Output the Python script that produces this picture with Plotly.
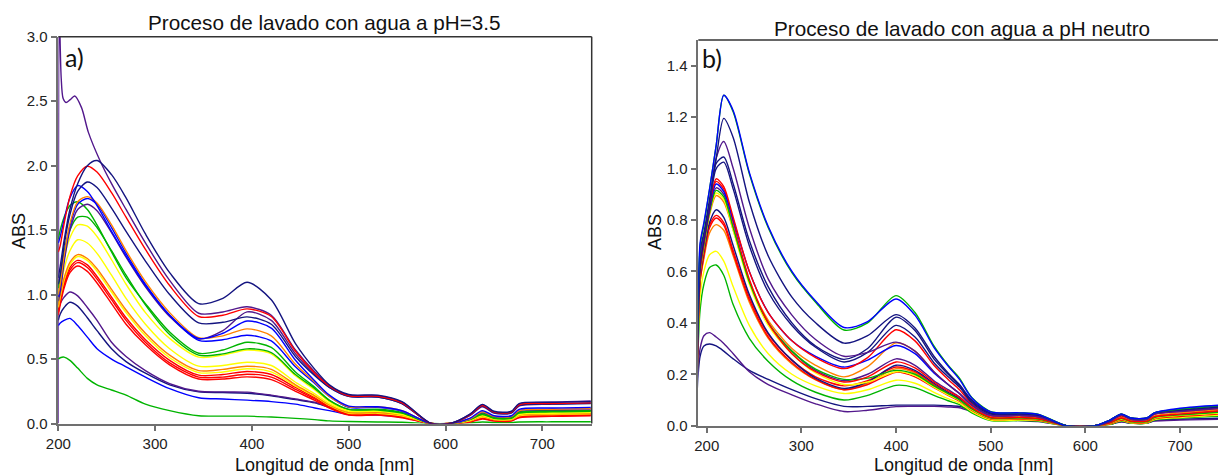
import plotly.graph_objects as go

# ---------------- Panel a) : washing with water at pH = 3.5 ----------------
wl_a = [200, 202, 206, 212, 220, 230, 240, 255, 270, 290, 315, 345, 370, 395, 420,
        445, 465, 480, 500, 530, 555, 585, 605, 625, 638, 650, 668, 676, 710, 750]

# first scan of the series: sharp rise right at 200 nm, then a shoulder at ~217 nm
wl_a_first = [200, 200.8, 201.5, 203, 205, 208, 212, 217, 224, 231, 243, 255, 270, 290,
              315, 345, 370, 395, 420, 445, 465, 480, 500, 530, 555, 585, 605, 625, 638,
              650, 668, 676, 710, 750]
a_purple_1 = [0.0, 3.4, 3.1, 2.68, 2.52, 2.49, 2.51, 2.54, 2.45, 2.26, 2.04, 1.86, 1.66, 1.40,
              1.11, 0.855, 0.865, 0.905, 0.84, 0.57, 0.40, 0.295, 0.22, 0.215, 0.165, 0.0, 0.0,
              0.07, 0.145, 0.09, 0.09, 0.15, 0.165, 0.175]

a_navy_1 = [1.13, 1.22, 1.42, 1.66, 1.86, 2.00, 2.04, 1.93, 1.75, 1.47, 1.17, 0.93, 0.97, 1.095, 0.96,
            0.62, 0.42, 0.30, 0.225, 0.22, 0.17, 0.0, 0.0, 0.07, 0.148, 0.095, 0.095, 0.155, 0.165, 0.17]
a_red_1 = [1.33, 1.38, 1.55, 1.76, 1.92, 1.995, 1.95, 1.79, 1.60, 1.35, 1.07, 0.83, 0.84, 0.889, 0.83,
           0.56, 0.39, 0.29, 0.215, 0.21, 0.16, 0.0, 0.0, 0.065, 0.14, 0.088, 0.088, 0.145, 0.155, 0.16]
a_navy_2 = [1.08, 1.15, 1.38, 1.62, 1.80, 1.873, 1.83, 1.67, 1.49, 1.26, 1.00, 0.78, 0.785, 0.827, 0.77,
            0.52, 0.37, 0.28, 0.21, 0.205, 0.155, 0.0, 0.0, 0.065, 0.135, 0.085, 0.085, 0.14, 0.15, 0.155]
a_blue_1 = [1.40, 1.45, 1.58, 1.75, 1.845, 1.80, 1.69, 1.49, 1.30, 1.07, 0.84, 0.66, 0.70, 0.795, 0.74,
            0.49, 0.33, 0.22, 0.135, 0.13, 0.10, 0.0, 0.0, 0.04, 0.10, 0.06, 0.06, 0.11, 0.12, 0.125]
a_orange_1 = [1.00, 1.08, 1.30, 1.55, 1.72, 1.76, 1.71, 1.54, 1.34, 1.10, 0.86, 0.665, 0.68, 0.734, 0.68,
              0.46, 0.32, 0.21, 0.13, 0.13, 0.10, 0.0, 0.0, 0.035, 0.09, 0.055, 0.055, 0.10, 0.11, 0.115]
a_blue_2 = [0.98, 1.05, 1.28, 1.53, 1.70, 1.745, 1.70, 1.52, 1.32, 1.08, 0.84, 0.645, 0.65, 0.685, 0.64,
            0.44, 0.31, 0.21, 0.125, 0.125, 0.095, 0.0, 0.0, 0.035, 0.09, 0.055, 0.055, 0.10, 0.11, 0.115]
a_purple_2 = [0.95, 1.02, 1.25, 1.50, 1.66, 1.70, 1.65, 1.48, 1.29, 1.06, 0.83, 0.655, 0.72, 0.866, 0.80,
              0.54, 0.38, 0.28, 0.21, 0.205, 0.155, 0.0, 0.0, 0.06, 0.13, 0.08, 0.08, 0.135, 0.15, 0.16]
a_green_1 = [1.43, 1.50, 1.60, 1.69, 1.72, 1.66, 1.54, 1.33, 1.13, 0.93, 0.71, 0.545, 0.57, 0.63, 0.59,
             0.40, 0.28, 0.18, 0.11, 0.11, 0.085, 0.0, 0.0, 0.03, 0.075, 0.045, 0.045, 0.085, 0.095, 0.10]
a_green_2 = [1.05, 1.15, 1.33, 1.50, 1.60, 1.60, 1.52, 1.34, 1.15, 0.92, 0.69, 0.53, 0.54, 0.579, 0.55,
             0.38, 0.27, 0.18, 0.11, 0.105, 0.08, 0.0, 0.0, 0.03, 0.07, 0.04, 0.04, 0.08, 0.09, 0.095]
a_yellow_1 = [1.00, 1.10, 1.28, 1.44, 1.54, 1.53, 1.45, 1.27, 1.08, 0.86, 0.66, 0.515, 0.53, 0.57, 0.54,
              0.37, 0.26, 0.17, 0.10, 0.10, 0.075, 0.0, 0.0, 0.025, 0.065, 0.04, 0.04, 0.075, 0.085, 0.09]
a_yellow_2 = [0.95, 1.04, 1.20, 1.34, 1.425, 1.40, 1.32, 1.15, 0.97, 0.77, 0.58, 0.445, 0.45, 0.475, 0.45,
              0.32, 0.23, 0.155, 0.095, 0.095, 0.07, 0.0, 0.0, 0.025, 0.06, 0.035, 0.035, 0.07, 0.08, 0.085]
a_orange_2 = [0.92, 1.00, 1.13, 1.25, 1.31, 1.28, 1.20, 1.04, 0.88, 0.70, 0.53, 0.41, 0.42, 0.444, 0.42,
              0.30, 0.215, 0.145, 0.085, 0.085, 0.065, 0.0, 0.0, 0.02, 0.055, 0.03, 0.03, 0.065, 0.075, 0.08]
a_yellow_3 = [0.90, 0.98, 1.11, 1.23, 1.295, 1.265, 1.18, 1.02, 0.86, 0.68, 0.51, 0.395, 0.40, 0.425, 0.40,
              0.29, 0.21, 0.14, 0.08, 0.08, 0.06, 0.0, 0.0, 0.02, 0.05, 0.03, 0.03, 0.06, 0.07, 0.075]
a_red_2 = [0.88, 0.96, 1.09, 1.21, 1.265, 1.23, 1.14, 0.98, 0.82, 0.65, 0.49, 0.375, 0.38, 0.403, 0.38,
           0.28, 0.20, 0.13, 0.075, 0.075, 0.055, 0.0, 0.0, 0.015, 0.045, 0.025, 0.025, 0.055, 0.065, 0.07]
a_red_3 = [0.86, 0.94, 1.07, 1.19, 1.248, 1.21, 1.12, 0.96, 0.80, 0.63, 0.47, 0.36, 0.36, 0.382, 0.36,
           0.265, 0.19, 0.125, 0.07, 0.07, 0.05, 0.0, 0.0, 0.015, 0.04, 0.02, 0.02, 0.05, 0.06, 0.065]
a_red_4 = [0.84, 0.92, 1.05, 1.17, 1.222, 1.18, 1.09, 0.93, 0.77, 0.61, 0.455, 0.345, 0.345, 0.362, 0.34,
           0.25, 0.18, 0.12, 0.065, 0.065, 0.045, 0.0, 0.0, 0.01, 0.035, 0.02, 0.02, 0.045, 0.055, 0.06]
a_purple_3 = [0.88, 0.93, 0.98, 1.02, 0.99, 0.90, 0.80, 0.63, 0.52, 0.41, 0.31, 0.25, 0.245, 0.243, 0.22,
              0.19, 0.165, 0.13, 0.09, 0.085, 0.065, 0.0, 0.0, 0.03, 0.08, 0.05, 0.05, 0.09, 0.10, 0.105]
a_navy_3 = [0.80, 0.85, 0.90, 0.94, 0.91, 0.82, 0.72, 0.58, 0.48, 0.39, 0.30, 0.245, 0.24, 0.235, 0.215,
            0.185, 0.16, 0.125, 0.09, 0.085, 0.065, 0.0, 0.0, 0.03, 0.075, 0.045, 0.045, 0.085, 0.095, 0.10]
a_blue_3 = [0.76, 0.78, 0.80, 0.815, 0.76, 0.67, 0.58, 0.50, 0.44, 0.36, 0.27, 0.20, 0.19, 0.181, 0.17,
            0.15, 0.12, 0.10, 0.07, 0.065, 0.05, 0.0, 0.0, 0.02, 0.06, 0.035, 0.035, 0.065, 0.075, 0.08]
a_green_3 = [0.50, 0.51, 0.515, 0.49, 0.43, 0.35, 0.30, 0.26, 0.22, 0.15, 0.10, 0.06, 0.057, 0.057, 0.05,
             0.04, 0.03, 0.02, 0.015, 0.012, 0.01, 0.0, 0.0, 0.005, 0.012, 0.008, 0.008, 0.012, 0.013, 0.014]

# ---------------- Panel b) : washing with water at neutral pH ----------------
wl_b = [190, 193, 197, 203, 210, 218, 228, 245, 265, 290, 315, 345, 370, 400, 420, 440,
        455, 467, 480, 500, 530, 550, 580, 610, 625, 638, 648, 665, 673, 700, 750]

b_green_1 = [0.30, 0.70, 0.78, 0.92, 1.09, 1.285, 1.22, 0.98, 0.77, 0.595, 0.48, 0.372, 0.40, 0.506, 0.44,
             0.31, 0.235, 0.185, 0.11, 0.055, 0.05, 0.045, 0.0, 0.0, 0.02, 0.045, 0.03, 0.03, 0.05, 0.065, 0.08]
b_blue_1 = [0.32, 0.71, 0.79, 0.92, 1.09, 1.285, 1.225, 0.985, 0.775, 0.60, 0.485, 0.382, 0.405, 0.493, 0.43,
            0.305, 0.232, 0.18, 0.108, 0.054, 0.05, 0.044, 0.0, 0.0, 0.02, 0.045, 0.03, 0.03, 0.05, 0.068, 0.082]
b_navy_1 = [0.28, 0.68, 0.75, 0.88, 1.04, 1.195, 1.12, 0.87, 0.66, 0.50, 0.40, 0.321, 0.35, 0.432, 0.38,
            0.27, 0.205, 0.16, 0.10, 0.05, 0.048, 0.043, 0.0, 0.0, 0.02, 0.045, 0.03, 0.03, 0.05, 0.062, 0.078]
b_purple_1 = [0.25, 0.66, 0.74, 0.87, 1.04, 1.105, 1.00, 0.77, 0.57, 0.43, 0.335, 0.27, 0.285, 0.325, 0.29,
              0.21, 0.16, 0.125, 0.08, 0.04, 0.04, 0.035, 0.0, 0.0, 0.015, 0.04, 0.025, 0.025, 0.045, 0.055, 0.07]
b_navy_2 = [0.22, 0.64, 0.73, 0.86, 1.02, 1.045, 0.94, 0.72, 0.54, 0.40, 0.31, 0.258, 0.30, 0.422, 0.37,
            0.26, 0.20, 0.155, 0.095, 0.048, 0.046, 0.04, 0.0, 0.0, 0.02, 0.045, 0.03, 0.03, 0.05, 0.06, 0.075]
b_navy_3 = [0.20, 0.62, 0.72, 0.85, 1.00, 1.025, 0.92, 0.70, 0.52, 0.39, 0.305, 0.248, 0.285, 0.39, 0.345,
            0.245, 0.19, 0.15, 0.09, 0.045, 0.044, 0.038, 0.0, 0.0, 0.018, 0.042, 0.028, 0.028, 0.048, 0.058, 0.072]
b_red_1 = [0.24, 0.62, 0.72, 0.85, 0.96, 0.93, 0.81, 0.60, 0.44, 0.33, 0.265, 0.222, 0.265, 0.373, 0.33,
           0.235, 0.18, 0.14, 0.085, 0.04, 0.04, 0.035, 0.0, 0.0, 0.015, 0.038, 0.025, 0.025, 0.045, 0.055, 0.07]
b_blue_2 = [0.30, 0.63, 0.72, 0.84, 0.94, 0.91, 0.80, 0.60, 0.44, 0.33, 0.27, 0.228, 0.255, 0.312, 0.28,
            0.205, 0.16, 0.125, 0.08, 0.04, 0.04, 0.035, 0.0, 0.0, 0.015, 0.04, 0.025, 0.025, 0.045, 0.058, 0.072]
b_red_2 = [0.22, 0.60, 0.71, 0.84, 0.95, 0.92, 0.79, 0.57, 0.40, 0.28, 0.21, 0.17, 0.19, 0.248, 0.225,
           0.17, 0.135, 0.11, 0.07, 0.032, 0.032, 0.028, 0.0, 0.0, 0.01, 0.03, 0.018, 0.018, 0.035, 0.045, 0.06]
b_green_2 = [0.25, 0.60, 0.70, 0.83, 0.915, 0.89, 0.77, 0.56, 0.40, 0.29, 0.22, 0.18, 0.185, 0.215, 0.20,
             0.155, 0.125, 0.10, 0.065, 0.03, 0.03, 0.026, 0.0, 0.0, 0.01, 0.028, 0.016, 0.016, 0.032, 0.042, 0.055]
b_yellow_1 = [0.26, 0.60, 0.70, 0.83, 0.905, 0.88, 0.76, 0.55, 0.39, 0.28, 0.205, 0.16, 0.17, 0.21, 0.195,
              0.15, 0.12, 0.098, 0.062, 0.028, 0.028, 0.025, 0.0, 0.0, 0.008, 0.025, 0.015, 0.015, 0.03, 0.04, 0.05]
b_orange_1 = [0.24, 0.59, 0.69, 0.82, 0.895, 0.87, 0.76, 0.56, 0.41, 0.30, 0.235, 0.19, 0.23, 0.322, 0.29,
              0.21, 0.16, 0.125, 0.075, 0.035, 0.035, 0.03, 0.0, 0.0, 0.012, 0.032, 0.02, 0.02, 0.038, 0.05, 0.065]
b_purple_2 = [0.23, 0.61, 0.71, 0.84, 0.925, 0.90, 0.77, 0.56, 0.40, 0.29, 0.215, 0.175, 0.20, 0.26, 0.235,
              0.175, 0.14, 0.112, 0.07, 0.032, 0.032, 0.028, 0.0, 0.0, 0.01, 0.03, 0.018, 0.018, 0.035, 0.045, 0.06]
b_navy_4 = [0.20, 0.58, 0.68, 0.79, 0.84, 0.81, 0.70, 0.51, 0.36, 0.255, 0.185, 0.145, 0.17, 0.235, 0.215,
            0.165, 0.13, 0.105, 0.065, 0.03, 0.03, 0.027, 0.0, 0.0, 0.01, 0.028, 0.017, 0.017, 0.033, 0.043, 0.058]
b_red_3 = [0.21, 0.57, 0.67, 0.78, 0.818, 0.79, 0.68, 0.50, 0.355, 0.255, 0.19, 0.155, 0.175, 0.228, 0.21,
           0.16, 0.127, 0.102, 0.063, 0.028, 0.028, 0.025, 0.0, 0.0, 0.008, 0.025, 0.015, 0.015, 0.03, 0.04, 0.052]
b_red_4 = [0.20, 0.56, 0.66, 0.77, 0.808, 0.78, 0.67, 0.49, 0.345, 0.245, 0.18, 0.14, 0.16, 0.208, 0.19,
           0.148, 0.118, 0.095, 0.06, 0.026, 0.026, 0.022, 0.0, 0.0, 0.006, 0.022, 0.013, 0.013, 0.027, 0.036, 0.048]
b_orange_2 = [0.25, 0.56, 0.65, 0.75, 0.782, 0.76, 0.66, 0.48, 0.34, 0.24, 0.178, 0.14, 0.165, 0.222, 0.205,
              0.155, 0.123, 0.10, 0.062, 0.027, 0.027, 0.024, 0.0, 0.0, 0.007, 0.024, 0.014, 0.014, 0.028, 0.038, 0.05]
b_yellow_2 = [0.22, 0.50, 0.60, 0.665, 0.678, 0.64, 0.54, 0.39, 0.28, 0.20, 0.155, 0.125, 0.14, 0.177, 0.165,
              0.13, 0.105, 0.088, 0.055, 0.022, 0.022, 0.02, 0.0, 0.0, 0.005, 0.02, 0.011, 0.011, 0.024, 0.032, 0.042]
b_green_3 = [0.20, 0.45, 0.55, 0.615, 0.625, 0.585, 0.47, 0.34, 0.25, 0.175, 0.13, 0.10, 0.118, 0.157, 0.148,
             0.118, 0.097, 0.082, 0.05, 0.02, 0.02, 0.018, 0.0, 0.0, 0.004, 0.018, 0.01, 0.01, 0.022, 0.03, 0.038]
b_purple_3 = [0.18, 0.30, 0.35, 0.362, 0.345, 0.32, 0.28, 0.21, 0.16, 0.12, 0.085, 0.055, 0.06, 0.074, 0.075,
              0.075, 0.073, 0.07, 0.055, 0.03, 0.02, 0.016, 0.0, 0.0, 0.005, 0.015, 0.01, 0.01, 0.018, 0.022, 0.025]
b_navy_5 = [0.14, 0.27, 0.31, 0.318, 0.31, 0.29, 0.26, 0.215, 0.18, 0.14, 0.105, 0.075, 0.075, 0.08, 0.08,
            0.08, 0.078, 0.075, 0.06, 0.035, 0.025, 0.02, 0.0, 0.0, 0.005, 0.015, 0.01, 0.01, 0.02, 0.025, 0.03]

# ---------------- styling ----------------
NAVY, PURPLE, BLUE = "#141480", "#52188c", "#0000ff"
RED, ORANGE, GREEN, YELLOW = "#ff0000", "#ff8200", "#00b400", "#ffff00"

panel_a = [
    (wl_a_first, a_purple_1, PURPLE),
    (wl_a, a_green_3, GREEN), (wl_a, a_blue_3, BLUE), (wl_a, a_navy_3, NAVY), (wl_a, a_purple_3, PURPLE),
    (wl_a, a_red_4, RED), (wl_a, a_red_3, RED), (wl_a, a_red_2, RED), (wl_a, a_yellow_3, YELLOW),
    (wl_a, a_orange_2, ORANGE), (wl_a, a_yellow_2, YELLOW), (wl_a, a_yellow_1, YELLOW),
    (wl_a, a_green_2, GREEN), (wl_a, a_green_1, GREEN), (wl_a, a_purple_2, PURPLE),
    (wl_a, a_blue_2, BLUE), (wl_a, a_orange_1, ORANGE), (wl_a, a_blue_1, BLUE),
    (wl_a, a_navy_2, NAVY), (wl_a, a_red_1, RED), (wl_a, a_navy_1, NAVY),
]
panel_b = [
    (b_navy_5, NAVY), (b_purple_3, PURPLE), (b_green_3, GREEN), (b_yellow_2, YELLOW),
    (b_orange_2, ORANGE), (b_red_4, RED), (b_red_3, RED), (b_navy_4, NAVY), (b_purple_2, PURPLE),
    (b_orange_1, ORANGE), (b_yellow_1, YELLOW), (b_green_2, GREEN), (b_red_2, RED),
    (b_blue_2, BLUE), (b_red_1, RED), (b_navy_3, NAVY), (b_navy_2, NAVY), (b_purple_1, PURPLE),
    (b_navy_1, NAVY), (b_green_1, GREEN), (b_blue_1, BLUE),
]

fig = go.Figure()
for wl, vals, col in panel_a:
    fig.add_trace(go.Scatter(x=wl, y=vals, mode="lines", xaxis="x", yaxis="y",
                             line=dict(color=col, width=1.4, shape="spline", smoothing=0.8),
                             showlegend=False, hoverinfo="skip"))
for vals, col in panel_b:
    fig.add_trace(go.Scatter(x=wl_b, y=vals, mode="lines", xaxis="x2", yaxis="y2",
                             line=dict(color=col, width=1.4, shape="spline", smoothing=0.8),
                             showlegend=False, hoverinfo="skip"))

W, H = 1218, 475
AXIS_GREY = "#707070"
FONT = "Liberation Sans, Arial, sans-serif"
tick_font = dict(family=FONT, size=15, color="#222222")

common_x = dict(showline=True, linecolor=AXIS_GREY, linewidth=1.5, ticks="outside", ticklen=6,
                tickwidth=1.5, tickcolor=AXIS_GREY, showgrid=False, zeroline=False,
                tickvals=[200, 300, 400, 500, 600, 700], tickfont=tick_font, mirror=False,
                automargin=False)
common_y = dict(showline=True, linecolor=AXIS_GREY, linewidth=1.5, ticks="outside", ticklen=6,
                tickwidth=1.5, tickcolor=AXIS_GREY, showgrid=False, zeroline=False,
                tickformat=".1f", tickfont=tick_font, mirror=False, automargin=False)

fig.update_layout(
    width=W, height=H, margin=dict(l=0, r=0, t=0, b=0, autoexpand=False),
    paper_bgcolor="white", plot_bgcolor="white",
    xaxis=dict(common_x, domain=[58.3 / W, 591.7 / W], range=[200, 751], anchor="y"),
    yaxis=dict(common_y, domain=[1 - 423.5 / H, 1 - 36.7 / H], range=[0, 3.0], dtick=0.5, anchor="x"),
    xaxis2=dict(common_x, domain=[698.3 / W, 1.0], range=[191.1, 740.1], anchor="y2"),
    yaxis2=dict(common_y, domain=[1 - 425.7 / H, 1 - 40 / H], range=[0, 1.5], dtick=0.2, anchor="x2"),
    shapes=[
        dict(type="line", xref="x domain", yref="y domain", x0=0, x1=1, y0=1, y1=1,
             line=dict(color="#333333", width=1.5)),
        dict(type="line", xref="x domain", yref="y domain", x0=1, x1=1, y0=0, y1=1,
             line=dict(color="#333333", width=1.5)),
        dict(type="line", xref="x2 domain", yref="y2 domain", x0=0, x1=1, y0=1, y1=1,
             line=dict(color="#333333", width=1.5)),
    ],
)

def text(x, y, s, size, family=FONT, angle=0, xanchor="center"):
    fig.add_annotation(x=x / W, y=1 - y / H, xref="paper", yref="paper", text=s, showarrow=False,
                       xanchor=xanchor, yanchor="middle", textangle=angle,
                       font=dict(family=family, size=size, color="#111111"))

text(324, 23, "Proceso de lavado con agua a pH=3.5", 20.7)
text(962, 28, "Proceso de lavado con agua a pH neutro", 20.7)
text(324, 465, "Longitud de onda [nm]", 18)
text(963, 465, "Longitud de onda [nm]", 18)
text(19, 231, "ABS", 18, angle=-90)
text(655, 232, "ABS", 18, angle=-90)
text(63, 57, "a)", 25, family="Lato, Carlito, sans-serif", xanchor="left")
text(700, 58, "b)", 25, family="Lato, Carlito, sans-serif", xanchor="left")

fig.write_html("out.html")
